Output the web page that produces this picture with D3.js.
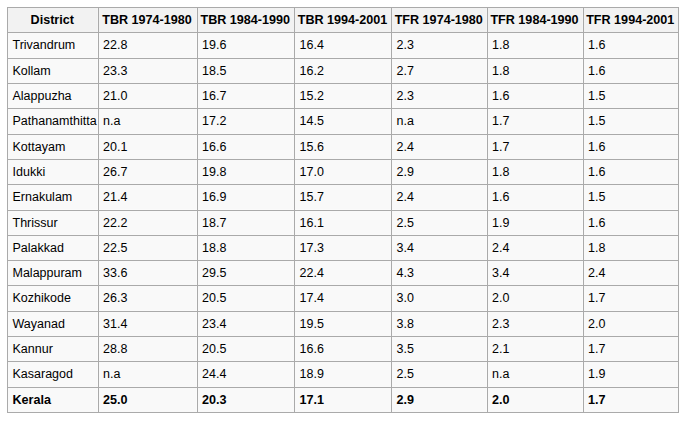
<!DOCTYPE html>
<html>
<head>
<meta charset="utf-8">
<script src="https://cdn.jsdelivr.net/npm/d3@7"></script>
<style>
  html, body { margin: 0; padding: 0; background: #fff; }
  svg { display: block; }
  text { font-family: "Liberation Sans", Arial, Helvetica, sans-serif; font-size: 12.5px; fill: #000; }
  text.bold { font-size: 12.6px; }
</style>
</head>
<body>
<svg id="chart" width="688" height="423"></svg>
<script>
// ---- data ----
const headers = ["District", "TBR 1974-1980", "TBR 1984-1990", "TBR 1994-2001", "TFR 1974-1980", "TFR 1984-1990", "TFR 1994-2001"];
const districts = ["Trivandrum", "Kollam", "Alappuzha", "Pathanamthitta", "Kottayam", "Idukki", "Ernakulam", "Thrissur", "Palakkad", "Malappuram", "Kozhikode", "Wayanad", "Kannur", "Kasaragod", "Kerala"];
const tbr1974 = ["22.8", "23.3", "21.0", "n.a", "20.1", "26.7", "21.4", "22.2", "22.5", "33.6", "26.3", "31.4", "28.8", "n.a", "25.0"];
const tbr1984 = ["19.6", "18.5", "16.7", "17.2", "16.6", "19.8", "16.9", "18.7", "18.8", "29.5", "20.5", "23.4", "20.5", "24.4", "20.3"];
const tbr1994 = ["16.4", "16.2", "15.2", "14.5", "15.6", "17.0", "15.7", "16.1", "17.3", "22.4", "17.4", "19.5", "16.6", "18.9", "17.1"];
const tfr1974 = ["2.3", "2.7", "2.3", "n.a", "2.4", "2.9", "2.4", "2.5", "3.4", "4.3", "3.0", "3.8", "3.5", "2.5", "2.9"];
const tfr1984 = ["1.8", "1.8", "1.6", "1.7", "1.7", "1.8", "1.6", "1.9", "2.4", "3.4", "2.0", "2.3", "2.1", "n.a", "2.0"];
const tfr1994 = ["1.6", "1.6", "1.5", "1.5", "1.6", "1.6", "1.5", "1.6", "1.8", "2.4", "1.7", "2.0", "1.7", "1.9", "1.7"];
const totalRow = "Kerala";

// ---- layout ----
const colEdges = [7, 97.5, 196.5, 294, 391, 486.5, 582.5, 678];
const tableTop = 7, tableBottom = 412;
const padX = 5;

const columns = [districts, tbr1974, tbr1984, tbr1994, tfr1974, tfr1984, tfr1994];
const rows = districts.map((d, i) => columns.map(c => c[i]));

const svg = d3.select("#chart");

const rowKeys = ["header"].concat(districts);
const y = d3.scaleBand().domain(rowKeys).range([tableTop, tableBottom]).paddingInner(0).paddingOuter(0);
const xLeft = d3.scaleOrdinal().domain(headers).range(colEdges.slice(0, -1));
const xRight = d3.scaleOrdinal().domain(headers).range(colEdges.slice(1));

// header cells
const hdr = svg.append("g").attr("class", "header");
hdr.selectAll("rect").data(headers).join("rect")
  .attr("x", h => xLeft(h)).attr("y", y("header"))
  .attr("width", h => xRight(h) - xLeft(h)).attr("height", y.bandwidth())
  .attr("fill", "#f2f2f2");
hdr.selectAll("text").data(headers).join("text")
  .attr("class", "bold")
  .attr("x", h => (xLeft(h) + xRight(h)) / 2)
  .attr("y", y("header") + y.bandwidth() / 2)
  .attr("dy", "0.35em")
  .attr("text-anchor", "middle")
  .attr("font-weight", "bold")
  .text(h => h);

// body cells
const body = svg.append("g").attr("class", "body");
const rowG = body.selectAll("g.row").data(rows).join("g").attr("class", "row");
rowG.selectAll("rect").data(r => r.map((v, j) => ({ v, j, key: r[0] }))).join("rect")
  .attr("x", d => xLeft(headers[d.j])).attr("y", d => y(d.key))
  .attr("width", d => xRight(headers[d.j]) - xLeft(headers[d.j])).attr("height", y.bandwidth())
  .attr("fill", "#f9f9f9");
rowG.selectAll("text").data(r => r.map((v, j) => ({ v, j, key: r[0] }))).join("text")
  .attr("class", d => d.key === totalRow ? "bold" : null)
  .attr("x", d => xLeft(headers[d.j]) + padX + 0.5)
  .attr("y", d => y(d.key) + y.bandwidth() / 2)
  .attr("dy", "0.35em")
  .attr("font-weight", d => d.key === totalRow ? "bold" : "normal")
  .text(d => d.v);

// grid lines
const grid = svg.append("g").attr("stroke", "#aaa").attr("stroke-width", 1).attr("shape-rendering", "crispEdges");
grid.selectAll("line.h").data(rowKeys.map(k => y(k)).concat([tableBottom])).join("line")
  .attr("class", "h")
  .attr("x1", colEdges[0]).attr("x2", colEdges[colEdges.length - 1])
  .attr("y1", d => Math.round(d) + 0.5).attr("y2", d => Math.round(d) + 0.5);
grid.selectAll("line.v").data(colEdges).join("line")
  .attr("class", "v")
  .attr("x1", d => Math.round(d) + 0.5).attr("x2", d => Math.round(d) + 0.5)
  .attr("y1", tableTop).attr("y2", tableBottom + 1);
</script>
</body>
</html>
